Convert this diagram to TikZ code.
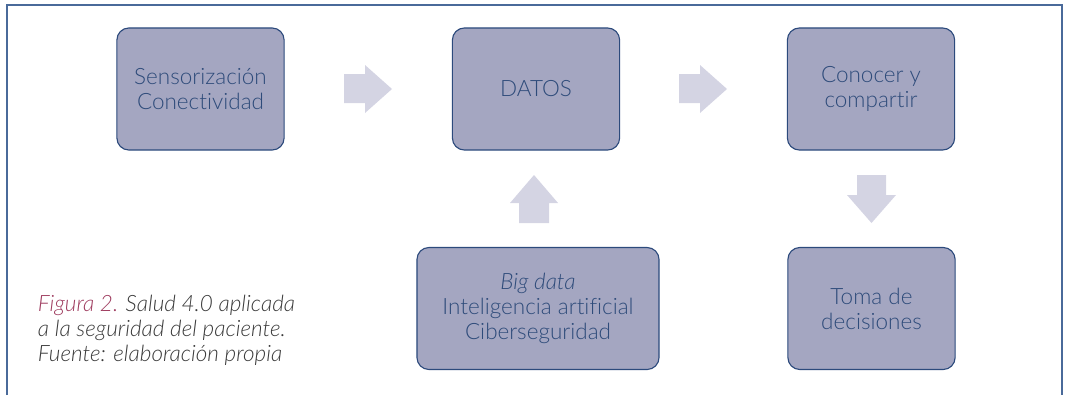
\documentclass[tikz,border=0pt]{standalone}
\usepackage{fontspec}
\setmainfont{Lato}[UprightFont={* Light}, ItalicFont={* Light Italic}, Ligatures={TeX,NoCommon}]
\usepackage{tikz}
\usetikzlibrary{positioning}

\definecolor{boxfill}{HTML}{A4A6C1}
\definecolor{boxline}{HTML}{2C4A7C}
\definecolor{boxtext}{HTML}{2E4B7A}
\definecolor{arrowfill}{HTML}{D4D4E3}
\definecolor{frameline}{HTML}{4A6A9A}
\definecolor{figred}{HTML}{9E3B5E}
\definecolor{captext}{HTML}{3A3A3A}

\begin{document}
\begin{tikzpicture}[x=0.025cm,y=-0.025cm]
\tikzstyle{stage}=[draw=boxline, line width=0.8pt, fill=boxfill, rounded corners=0.3cm,
  minimum width=4.18cm, minimum height=3.05cm, align=center, text=boxtext,
  font=\fontsize{16}{17.8}\selectfont]
\tikzstyle{wide}=[stage, minimum width=6.05cm]
\useasboundingbox (0,0) rectangle (1066,395);
% open frame, no bottom edge
\draw [frameline, line width=1pt] (7,395) -- (7,5) -- (1062,5) -- (1062,395);
% stages
\node [stage] (sens) at (200.5,89) {Sensorización\\Conectividad};
\node [stage] (datos) at (536,89) {DATOS};
\node [stage] (conocer) at (871,89) {Conocer y\\compartir};
\node [wide] (big) at (538,308.5) {\textit{Big data}\\Inteligencia artificial\\Ciberseguridad};
\node [stage] (toma) at (871.5,308.5) {Toma de\\decisiones};
% block arrows
\fill [arrowfill] (344,74) -- (365,74) -- (365,65) -- (392,89) -- (365,113) -- (365,103) -- (344,103) -- cycle;
\fill [arrowfill] (679,74) -- (700,74) -- (700,65) -- (727,89) -- (700,113) -- (700,103) -- (679,103) -- cycle;
\fill [arrowfill] (519,223) -- (519,203) -- (510,203) -- (534,175) -- (558,203) -- (549,203) -- (549,223) -- cycle;
\fill [arrowfill] (857,175) -- (857,195) -- (847,195) -- (871.5,223) -- (896,195) -- (886,195) -- (886,175) -- cycle;
% caption
\node [anchor=west, align=left, text=captext, font=\fontsize{16}{17.8}\selectfont\itshape] (caption) at (33,330)
  {\textcolor{figred}{Figura 2.} Salud 4.0 aplicada\\a la seguridad del paciente.\\Fuente: elaboración propia};
\end{tikzpicture}
\end{document}
